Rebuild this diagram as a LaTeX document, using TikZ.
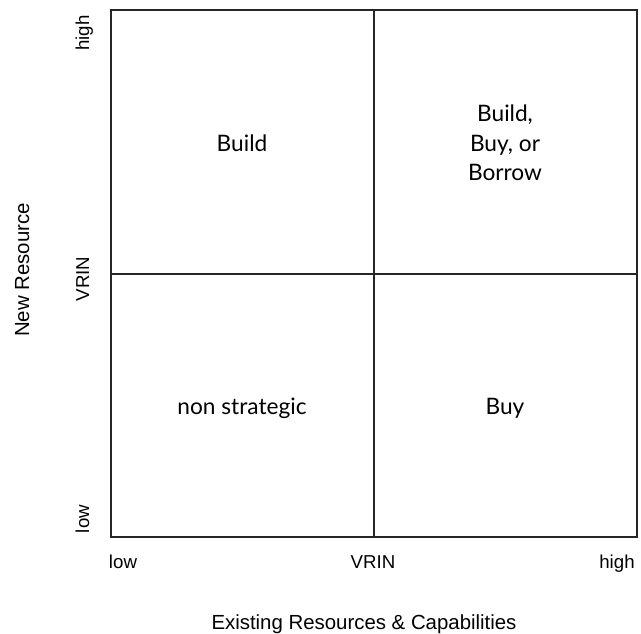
\documentclass[tikz,border=0pt]{standalone}
\usepackage{fontspec}
\setmainfont{Liberation Sans}
\newfontfamily\quadfont{Lato}
\usetikzlibrary{positioning}

\begin{document}
\begin{tikzpicture}[x=0.75pt, y=-0.75pt,
    tick/.style={font=\fontsize{14}{16}\selectfont, anchor=base, inner sep=0pt},
    title/.style={font=\fontsize{15.3}{18}\selectfont, anchor=base, inner sep=0pt},
    quad/.style={font=\quadfont\fontsize{17}{22}\selectfont, align=center}]
  \useasboundingbox (0,0) rectangle (641,633);
  \coordinate (sw) at (111,537);
  \coordinate (ne) at (637,10);
  \coordinate (c) at (374,274);
  \draw[line width=1.4pt, black!85] (sw) rectangle (ne);
  \draw[line width=1.4pt, black!85] (c |- ne) -- (c |- sw);
  \draw[line width=1.4pt, black!85] (c -| sw) -- (c -| ne);
  % quadrants
  \node[quad] (build) at (242,143) {Build};
  \node[quad] (bbb) at (505,143) {Build,\\Buy, or\\Borrow};
  \node[quad] (nonstrat) at (242,408) {non strategic};
  \node[quad] (buy) at (505,408) {Buy};
  % vertical axis
  \node[tick, rotate=90] (yhigh) at (89,33) {high};
  \node[tick, rotate=90] (yvrin) at (89,279) {VRIN};
  \node[tick, rotate=90] (ylow) at (89,519) {low};
  \node[title, rotate=90] (ytitle) at (29,270) {New Resource};
  % horizontal axis
  \node[tick] (xlow) at (123,568) {low};
  \node[tick] (xvrin) at (373,568) {VRIN};
  \node[tick] (xhigh) at (617,568) {high};
  \node[title] (xtitle) at (364,629) {Existing Resources \& Capabilities};
\end{tikzpicture}
\end{document}
